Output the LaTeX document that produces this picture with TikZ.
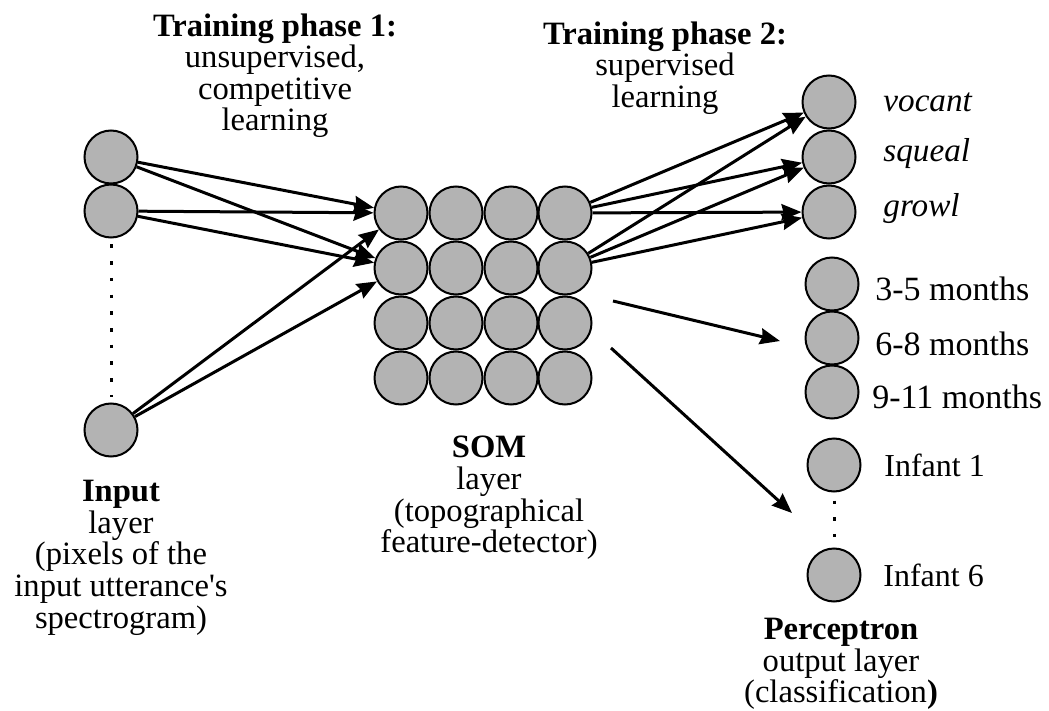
\documentclass[tikz,border=0pt]{standalone}
\usepackage{fontspec}
\setmainfont{Liberation Serif}[Ligatures=TeXOff]
\usetikzlibrary{arrows.meta}
\definecolor{neurongray}{RGB}{179,179,179}
\begin{document}
\begin{tikzpicture}[x=0.5pt,y=-0.5pt,
  neuron/.style={circle,draw=black,line width=1pt,fill=neurongray,minimum size=26.5pt,inner sep=0pt},
  arr/.style={line width=1.5pt,-{Stealth[length=10pt,width=8pt,inset=1pt]}},
  dotline/.style={line width=1.5pt,dash pattern=on 1.75pt off 6.6pt},
  lbl/.style={anchor=base west,inner sep=0pt,font=\fontsize{16}{16}\selectfont},
  mlbl/.style={anchor=base west,inner sep=0pt,font=\fontsize{17}{17}\selectfont},
  ilbl/.style={anchor=base west,inner sep=0pt,font=\fontsize{16.6}{16.6}\selectfont\itshape},
  title/.style={anchor=north,align=center,inner sep=0pt,font=\fontsize{16.3}{15.8}\selectfont}]
\path[use as bounding box] (0,0) rectangle (1049,711);

% input layer
\node[neuron] (i1) at (111,157) {};
\node[neuron] (i2) at (111,211) {};
\node[neuron] (i3) at (111,430) {};
\draw[dotline,shorten <=3pt,shorten >=3pt] (i2.south) -- (i3.north);

% SOM layer
\foreach \r/\y in {1/213,2/268,3/323,4/378}{
  \foreach \c/\x in {1/401,2/456,3/511,4/565}{
    \node[neuron] (s\r\c) at (\x,\y) {};
  }
}

% output layer
\node[neuron] (o1) at (829,102) {};
\node[neuron] (o2) at (829,157) {};
\node[neuron] (o3) at (829,212) {};
\node[neuron] (o4) at (832,284) {};
\node[neuron] (o5) at (832,338) {};
\node[neuron] (o6) at (832,392) {};
\node[neuron] (o7) at (834,465) {};
\node[neuron] (o8) at (834,575) {};
\draw[dotline,shorten <=4pt,shorten >=4pt] (o7.south) -- (o8.north);

% output labels
\node[ilbl] (l1) at (883,112) {vocant};
\node[ilbl] (l2) at (883,162) {squeal};
\node[ilbl] (l3) at (883,217) {growl};
\node[mlbl] (l4) at (875,300) {3-5 months};
\node[mlbl] (l5) at (875,355) {6-8 months};
\node[mlbl] (l6) at (872,408) {9-11 months};
\node[lbl] (l7) at (884,476) {Infant 1};
\node[lbl] (l8) at (883,586) {Infant 6};

% arrows input -> SOM
\foreach \i in {i1,i2,i3}{
  \draw[arr] (\i) -- (s11);
  \draw[arr] (\i) -- (s21);
}
% arrows SOM -> output
\foreach \s in {s14,s24}{
  \foreach \o in {o1,o2,o3}{
    \draw[arr] (\s) -- (\o);
  }
}
% free arrows
\coordinate (a1s) at (613,301);
\coordinate (a1e) at (780,341);
\coordinate (a2s) at (611,348);
\coordinate (a2e) at (792,513);
\draw[arr] (a1s) -- (a1e);
\draw[arr] (a2s) -- (a2e);

% titles
\node[title] (t1) at (275,13) {\textbf{Training phase 1:}\\unsupervised,\\competitive\\learning};
\node[title] (t2) at (665,21) {\textbf{Training phase 2:}\\supervised\\learning};
\node[title] (tin) at (121,480) {\textbf{Input}\\layer\\(pixels of the\\input utterance's\\spectrogram)};
\node[title] (tsom) at (489,436) {\textbf{SOM}\\layer\\(topographical\\feature-detector)};
\node[title] (tper) at (841,618) {\textbf{Perceptron}\\output layer\\(classification\textbf{)}};
\end{tikzpicture}
\end{document}
